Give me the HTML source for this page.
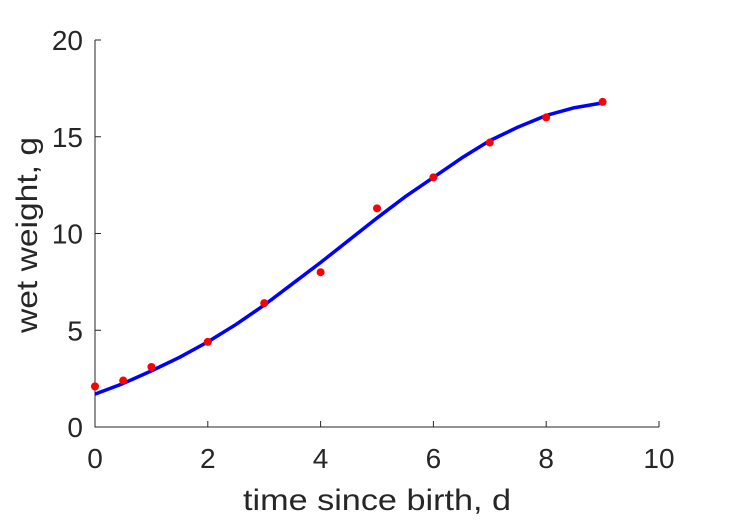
<!DOCTYPE html>
<html><head><meta charset="utf-8"><style>
body{margin:0;background:#fff}
svg text{font-family:"Liberation Sans",sans-serif;fill:#262626}
</style></head><body>
<svg id="chart" width="729" height="521"></svg>
<script>
const xTicks=[0,2,4,6,8,10];
const yTicks=[0,5,10,15,20];
const dataX=[0,0.5,1,2,3,4,5,6,7,8,9];
const dataY=[2.1,2.4,3.1,4.4,6.4,8.0,11.3,12.9,14.7,16.0,16.8];
const fitX=[0,0.5,1,1.5,2,2.5,3,3.5,4,4.5,5,5.5,6,6.5,7,7.5,8,8.5,9];
const fitY=[1.7,2.25,2.9,3.6,4.4,5.3,6.3,7.4,8.5,9.65,10.8,11.9,12.9,13.9,14.8,15.5,16.1,16.5,16.75];
const X0=95,X1=659,Y0=427,Y1=40;
const sx=v=>X0+(v-0)/(10-0)*(X1-X0);
const sy=v=>Y0-(v-0)/(20-0)*(Y0-Y1);
const svg=document.getElementById('chart');
const NS='http://www.w3.org/2000/svg';
function mk(t,a,p){const e=document.createElementNS(NS,t);for(const k in a)e.setAttribute(k,a[k]);(p||svg).appendChild(e);return e;}
let ax=mk('path',{d:`M${X0},${Y1}V${Y0}H${X1}`,fill:'none',stroke:'#262626','stroke-width':1});


xTicks.forEach(v=>{
 let t=mk('line',{x1:sx(v),x2:sx(v),y1:Y0,y2:Y0-6,stroke:'#262626'});
 
 
 let l=mk('text',{x:sx(v),y:468,'text-anchor':'middle','font-size':28});
 l.textContent=v;
 
 
});
yTicks.forEach(v=>{
 let t=mk('line',{x1:X0,x2:X0+6,y1:sy(v),y2:sy(v),stroke:'#262626'});
 
 
 let l=mk('text',{x:X0-12,y:sy(v)+10,'text-anchor':'end','font-size':28});
 l.textContent=v;
 
 
});
let xl=mk('text',{x:243,y:510,'font-size':30,textLength:268,lengthAdjust:'spacingAndGlyphs'});
xl.textContent='time since birth, d';


let yl=mk('text',{x:-98,y:0,'font-size':30,textLength:196,lengthAdjust:'spacingAndGlyphs',transform:`translate(37,235) rotate(-90)`});
yl.textContent='wet weight, g';


let pts=fitX.map((x,i)=>sx(x)+','+sy(fitY[i])).join(' ');
let fl=mk('polyline',{points:pts,fill:'none',stroke:'#0000ff','stroke-width':3.5,'stroke-linejoin':'round'});


dataX.forEach((x,i)=>{
 let c=mk('circle',{cx:sx(x),cy:sy(dataY[i]),r:4,fill:'#ff0000'});
 
 
});
</script>
</body></html>
